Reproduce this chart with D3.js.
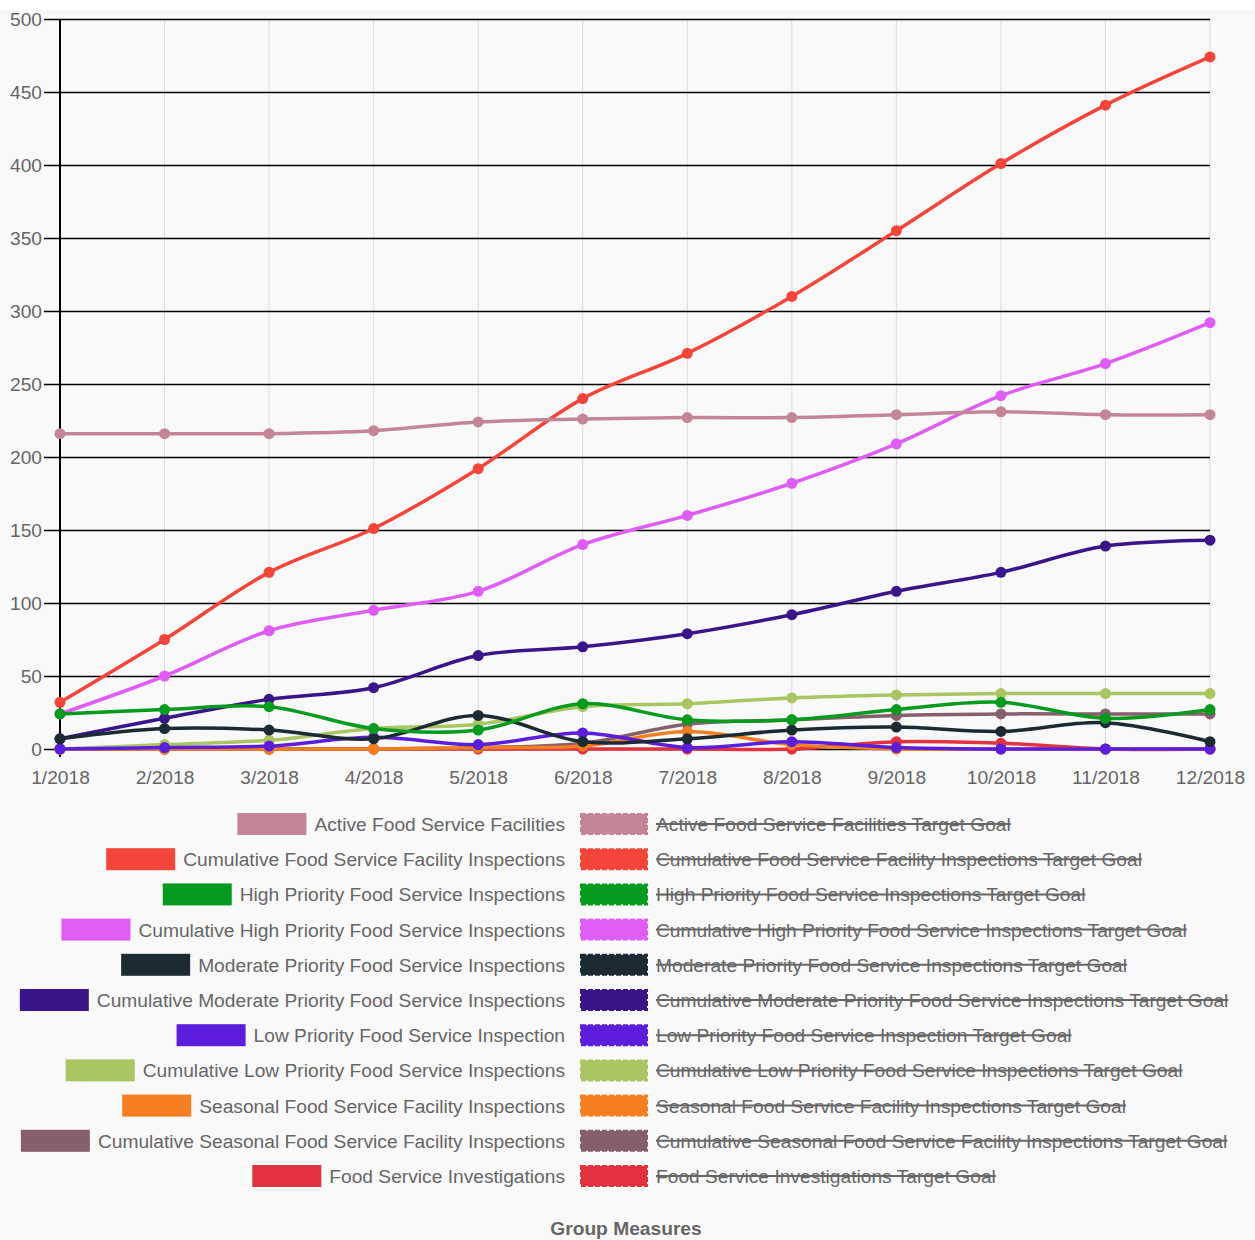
<!DOCTYPE html>
<html>
<head>
<meta charset="utf-8">
<script src="https://cdn.jsdelivr.net/npm/d3@7"></script>
<style>
  body { margin: 0; background: #fff; }
  text { font-family: "Liberation Sans", Arial, sans-serif; }
</style>
</head>
<body>
<script>
let months = ['1/2018', '2/2018', '3/2018', '4/2018', '5/2018', '6/2018',
              '7/2018', '8/2018', '9/2018', '10/2018', '11/2018', '12/2018'];
let yTicks = [0, 50, 100, 150, 200, 250, 300, 350, 400, 450, 500];

let activeFacilities = [216, 216, 216, 218, 224, 226, 227, 227, 229, 231, 229, 229];
let cumFacilityInspections = [32, 75, 121, 151, 192, 240, 271, 310, 355, 401, 441, 474];
let highPriority = [24, 27, 29, 14, 13, 31, 20, 20, 27, 32, 21, 27];
let cumHighPriority = [24, 50, 81, 95, 108, 140, 160, 182, 209, 242, 264, 292];
let moderatePriority = [7, 14, 13, 7, 23, 5, 7, 13, 15, 12, 18, 5];
let cumModeratePriority = [7, 21, 34, 42, 64, 70, 79, 92, 108, 121, 139, 143];
let lowPriority = [0, 1, 2, 8, 3, 11, 1, 5, 1, 0, 0, 0];
let cumLowPriority = [0, 3, 6, 14, 17, 29, 31, 35, 37, 38, 38, 38];
let seasonal = [0, 0, 0, 0, 1, 2, 12, 3, 0, 0, 0, 0];
let cumSeasonal = [0, 0, 0, 0, 1, 4, 17, 20, 23, 24, 24, 24];
let investigations = [0, 0, 0, 0, 0, 0, 0, 0, 5, 4, 0, 0];

let seriesNames = [
  'Active Food Service Facilities',
  'Cumulative Food Service Facility Inspections',
  'High Priority Food Service Inspections',
  'Cumulative High Priority Food Service Inspections',
  'Moderate Priority Food Service Inspections',
  'Cumulative Moderate Priority Food Service Inspections',
  'Low Priority Food Service Inspection',
  'Cumulative Low Priority Food Service Inspections',
  'Seasonal Food Service Facility Inspections',
  'Cumulative Seasonal Food Service Facility Inspections',
  'Food Service Investigations'
];
let seriesValues = [activeFacilities, cumFacilityInspections, highPriority, cumHighPriority,
  moderatePriority, cumModeratePriority, lowPriority, cumLowPriority, seasonal, cumSeasonal, investigations];
let seriesColors = ['#c48696', '#f34539', '#069a1f', '#e05df5', '#1c2a34', '#3a1489',
  '#5c1edc', '#a9c662', '#f57e21', '#855f6b', '#e2313f'];

let W = 1255, H = 1240;
let svg = d3.select('body').append('svg').attr('width', W).attr('height', H);
svg.append('rect').attr('x', 0).attr('y', 10).attr('width', W).attr('height', H - 10).attr('fill', '#f9f9f9');

let x = d3.scalePoint().domain(months).range([60, 1210]);
let y = d3.scaleLinear().domain([0, 500]).range([749, 19]);

// vertical light grid
svg.append('g').selectAll('line').data(months.slice(1)).enter().append('line')
  .attr('x1', d => x(d)).attr('x2', d => x(d))
  .attr('y1', y(500)).attr('y2', y(0) + 8)
  .attr('stroke', '#dcdcdc').attr('stroke-width', 1);

// horizontal black grid + y labels
let yAxis = d3.axisLeft(y).tickValues(yTicks).tickSize(-1150).tickPadding(4);
let gy = svg.append('g').attr('transform', 'translate(60,0)').call(yAxis);
gy.select('.domain').remove();
gy.selectAll('.tick line').attr('x1', -16).attr('stroke', '#000').attr('stroke-width', 1.5);
gy.selectAll('.tick text').attr('x', -18).attr('fill', '#666').style('font-size', '19.2px')
  .style('font-family', '"Liberation Sans", Arial, sans-serif');

// y axis line
svg.append('line').attr('x1', 60).attr('x2', 60).attr('y1', y(500)).attr('y2', y(0) + 8)
  .attr('stroke', '#000').attr('stroke-width', 2);

// x labels
let xAxis = d3.axisBottom(x).tickSize(0).tickPadding(21);
let gx = svg.append('g').attr('transform', 'translate(0,' + y(0) + ')').call(xAxis);
gx.select('.domain').remove();
gx.selectAll('.tick text').attr('fill', '#666').style('font-size', '19.2px')
  .style('font-family', '"Liberation Sans", Arial, sans-serif');

// series, first dataset drawn last (on top)
let line = d3.line().x((d, i) => x(months[i])).y(d => y(d)).curve(d3.curveCatmullRom.alpha(0.5));
let order = d3.range(seriesValues.length).reverse();
order.forEach(function(s) {
  let g = svg.append('g');
  g.append('path').datum(seriesValues[s]).attr('d', line)
    .attr('fill', 'none').attr('stroke', seriesColors[s]).attr('stroke-width', 3.5);
  g.selectAll('circle').data(seriesValues[s]).enter().append('circle')
    .attr('cx', (d, i) => x(months[i])).attr('cy', d => y(d)).attr('r', 5.5)
    .attr('fill', seriesColors[s]);
});

// legend
let legend = svg.append('g');
seriesNames.forEach(function(name, i) {
  let cy = 824 + i * 35.2;
  let lt = legend.append('text').attr('x', 565).attr('y', cy + 7)
    .attr('text-anchor', 'end').attr('fill', '#666').style('font-size', '19.2px').text(name);
  let w = lt.node().getComputedTextLength();
  legend.append('rect').attr('x', 565 - w - 8 - 69).attr('y', cy - 11)
    .attr('width', 69).attr('height', 22).attr('fill', seriesColors[i]);

  legend.append('rect').attr('x', 581).attr('y', cy - 10).attr('width', 66).attr('height', 20)
    .attr('fill', seriesColors[i]).attr('stroke', seriesColors[i]).attr('stroke-width', 2)
    .attr('stroke-dasharray', '5,2');
  let rt = legend.append('text').attr('x', 656).attr('y', cy + 7)
    .attr('fill', '#666').style('font-size', '19.2px').text(name + ' Target Goal');
  let rw = rt.node().getComputedTextLength();
  legend.append('line').attr('x1', 656).attr('x2', 656 + rw).attr('y1', cy).attr('y2', cy)
    .attr('stroke', '#666').attr('stroke-width', 2);
});

svg.append('text').attr('x', 626).attr('y', 1235).attr('text-anchor', 'middle')
  .attr('fill', '#666').style('font-size', '19.2px').style('font-weight', 'bold').text('Group Measures');
</script>
</body>
</html>
